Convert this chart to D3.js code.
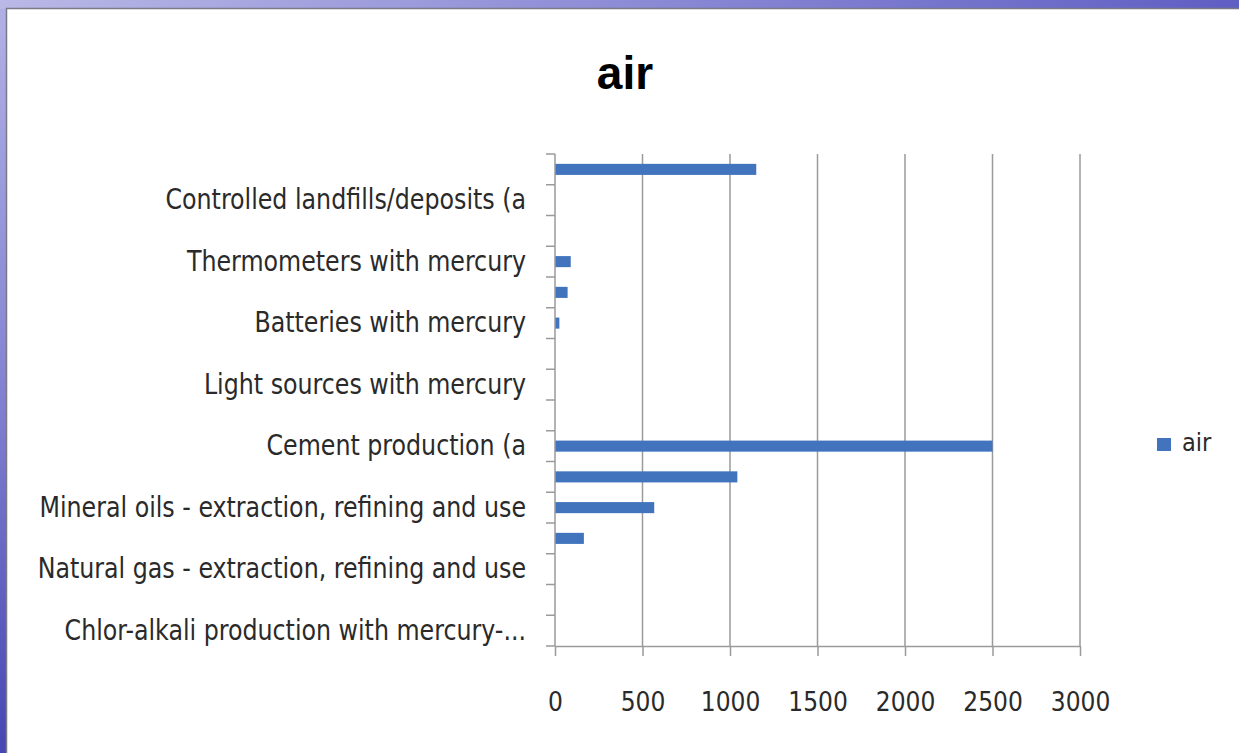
<!DOCTYPE html>
<html>
<head>
<meta charset="utf-8">
<script src="https://cdn.jsdelivr.net/npm/d3@7"></script>
<style>
  html, body { margin: 0; padding: 0; background: #fff; }
  svg { display: block; }
</style>
</head>
<body>
<div id="chart"></div>
<script>
/* horizontal bar chart - mercury releases to air */

// categories, bottom to top as in the sheet
var categories = [
    'Chlor-alkali production with mercury-...',
    'Pulp and paper production',
    'Natural gas - extraction, refining and use',
    'Biomass fired power and heat production',
    'Mineral oils - extraction, refining and use',
    'Coal combustion in large power plants',
    'Cement production (a',
    'Lime production and light weight aggregate kilns',
    'Light sources with mercury',
    'Electrical switches and relays with mercury',
    'Batteries with mercury',
    'Dental mercury-amalgam fillings',
    'Thermometers with mercury',
    'Polyurethane with mercury catalysts',
    'Controlled landfills/deposits (a',
    'Incineration of municipal/general waste'
];
var airValues = [0, 0, 0, 165, 567, 1042, 2500, 0, 0, 0, 25, 72, 90, 0, 0, 1150];
var xTicks = [0, 500, 1000, 1500, 2000, 2500, 3000];
var seriesName = 'air';
var chartTitle = 'air';

var W = 1239, H = 753;
var FONT = '"Liberation Sans Narrow", "DejaVu Sans Condensed", "Liberation Sans", sans-serif';
var BAR = '#4174bd', GRID = '#9a9a9a', TXT = '#2a2a2a';

var svg = d3.select('#chart').append('svg').attr('width', W).attr('height', H);

// slide frame
var defs = svg.append('defs');
var gTop = defs.append('linearGradient').attr('id', 'gTop').attr('x1', 0).attr('x2', 1).attr('y1', 0).attr('y2', 0);
gTop.append('stop').attr('offset', 0).attr('stop-color', '#b9b8e6');
gTop.append('stop').attr('offset', 0.5).attr('stop-color', '#8d8cd6');
gTop.append('stop').attr('offset', 1).attr('stop-color', '#5f5fc4');
var gLeft = defs.append('linearGradient').attr('id', 'gLeft').attr('x1', 0).attr('x2', 0).attr('y1', 0).attr('y2', 1);
gLeft.append('stop').attr('offset', 0).attr('stop-color', '#b2b1e6');
gLeft.append('stop').attr('offset', 0.5).attr('stop-color', '#8584d2');
gLeft.append('stop').attr('offset', 1).attr('stop-color', '#4646b4');

svg.append('rect').attr('width', W).attr('height', H).attr('fill', 'url(#gLeft)');
svg.append('rect').attr('width', W).attr('height', 9).attr('fill', 'url(#gTop)');
svg.append('rect').attr('x', 7).attr('y', 9).attr('width', W - 7).attr('height', H - 9).attr('fill', '#fff');
svg.append('path').attr('d', 'M6.5,' + H + 'V8.5H' + W)
    .attr('fill', 'none').attr('stroke', '#7a7a86').attr('stroke-width', 1.5);

// scales
var x = d3.scaleLinear().domain([0, 3000]).range([555, 1080]);
var y = d3.scaleBand().domain(categories.slice().reverse()).range([154, 646])
    .paddingInner(0.64).paddingOuter(0.32);

// gridlines
svg.append('g').selectAll('line').data(xTicks.slice(1)).join('line')
    .attr('x1', function(d){ return x(d); }).attr('x2', function(d){ return x(d); })
    .attr('y1', 154).attr('y2', 646)
    .attr('stroke', GRID).attr('stroke-width', 1.5);

// bars
svg.append('g').selectAll('rect').data(airValues).join('rect')
    .attr('x', x(0))
    .attr('y', function(d, i){ return y(categories[i]); })
    .attr('width', function(d){ return x(d) - x(0); })
    .attr('height', y.bandwidth())
    .attr('fill', BAR);

// x axis
var xAxis = svg.append('g').attr('transform', 'translate(0,646)')
    .call(d3.axisBottom(x).tickValues(xTicks).tickFormat(d3.format('d'))
        .tickSize(10).tickSizeOuter(0).tickPadding(37));
xAxis.select('.domain').attr('stroke', GRID).attr('stroke-width', 1.5);
xAxis.selectAll('.tick line').attr('stroke', GRID).attr('stroke-width', 1.5);
xAxis.selectAll('.tick text').attr('font-family', FONT).attr('font-size', 26).attr('fill', TXT);

// y axis: labels on every other category, ticks on band edges
var squeeze = 0.91;
var yAxis = svg.append('g').attr('transform', 'translate(555,0)')
    .call(d3.axisLeft(y).tickSize(0).tickPadding(29)
        .tickFormat(function(d){ return categories.indexOf(d) % 2 === 0 ? d : ''; }));
yAxis.select('.domain').remove();
yAxis.selectAll('.tick text')
    .attr('x', -29 / squeeze).attr('transform', 'scale(' + squeeze + ',1)')
    .attr('font-family', FONT).attr('font-size', 29).attr('fill', TXT);

var edges = d3.range(categories.length + 1).map(function(i){ return y.range()[0] + i * y.step(); });
svg.append('line').attr('x1', x(0)).attr('x2', x(0)).attr('y1', 154).attr('y2', 646)
    .attr('stroke', GRID).attr('stroke-width', 1.5);
svg.append('g').selectAll('line').data(edges).join('line')
    .attr('x1', x(0) - 9).attr('x2', x(0))
    .attr('y1', function(d){ return d; }).attr('y2', function(d){ return d; })
    .attr('stroke', GRID).attr('stroke-width', 1.5);

// title
svg.append('text').attr('x', 625).attr('y', 89).attr('text-anchor', 'middle')
    .attr('font-family', '"Liberation Sans", Arial, sans-serif').attr('font-weight', 'bold')
    .attr('font-size', 46).attr('fill', '#000').text(chartTitle);

// legend
svg.append('rect').attr('x', 1157).attr('y', 438).attr('width', 14).attr('height', 13).attr('fill', BAR);
svg.append('text').attr('x', 1182).attr('y', 451)
    .attr('font-family', FONT).attr('font-size', 25).attr('fill', TXT).text(seriesName);
</script>
</body>
</html>
